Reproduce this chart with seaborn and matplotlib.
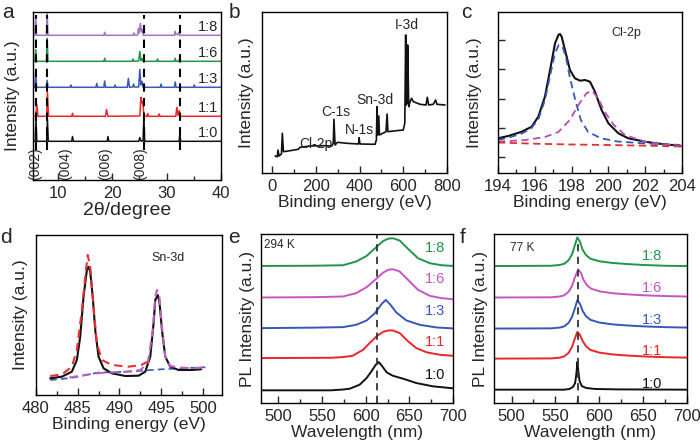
import numpy as np
import pandas as pd
import matplotlib
matplotlib.use("Agg")
import matplotlib.pyplot as plt
import seaborn as sns
from matplotlib.ticker import MultipleLocator, NullFormatter

sns.set_style("ticks")
plt.rcParams["font.family"] = ["Liberation Sans", "DejaVu Sans"]
plt.rcParams["axes.linewidth"] = 1.0

# ---------------- DATA ----------------
# (a) XRD, samples 1:0 ... 1:8 (offset traces)
XRD_LABELS = ["1:0", "1:1", "1:3", "1:6", "1:8"]
XRD_1_0 = [(5.5,38.7),(5.9,38.7),(6.05,60.7),(6.2,38.7),(8.0,38.7),(8.15,60.7),(8.3,38.7),(12.6,38.7),(12.75,43.5),(12.9,38.7),
           (19.1,38.7),(19.25,43.5),(19.4,38.7),(24.9,38.7),(25.1,42.5),(25.3,39),(25.7,39),(25.85,64),(26.0,38.7),
           (32.3,38.7),(32.45,46.5),(32.6,38.7),(40,38.7)]
XRD_1_1 = [(5.5,63.7),(6.0,63.7),(6.2,75.7),(6.4,63.7),(8.0,63.7),(8.15,87.7),(8.35,63.7),(12.6,63.7),(12.75,66.7),(12.9,63.7),
           (18.8,63.7),(19.0,70.5),(19.25,63.7),(25.1,64),(25.3,82.7),(25.5,77),(25.65,78.7),(25.85,64.5),(26.4,63.7),(26.55,66.5),
           (26.7,63.7),(28.5,63.7),(28.65,66),(28.8,63.7),(31.7,63.7),(31.9,72.7),(32.1,64.5),(32.35,69.5),(32.55,63.7),(40,63.7)]
XRD_1_3 = [(5.5,92.7),(5.85,92.7),(6.0,108.7),(6.15,92.7),(7.95,92.7),(8.1,99.7),(8.25,92.7),(12.3,92.7),(12.45,95),(12.6,92.7),
           (17.05,92.7),(17.2,96.5),(17.35,92.7),(18.5,92.7),(18.65,99),(18.8,92.7),(20.4,92.7),(20.55,95),(20.7,92.7),
           (22.8,92.7),(23.0,101.5),(23.2,92.7),(23.8,93),(23.95,96),(24.1,93),(24.9,93),(25.1,110.7),(25.3,95),(25.5,98.7),
           (25.7,92.7),(28.85,92.7),(29.0,96),(29.15,92.7),(31.45,92.7),(31.6,98),(31.75,92.7),(34.95,92.7),(35.1,95),
           (35.25,92.7),(40,92.7)]
XRD_1_6 = [(5.5,118.7),(5.85,118.7),(6.0,130.5),(6.15,118.7),(7.95,118.7),(8.1,141.7),(8.25,118.7),(18.5,118.7),(18.65,121.7),
           (18.8,118.7),(23.7,118.7),(23.85,121),(24.0,118.7),(24.9,119),(25.1,128.7),(25.3,119.5),(25.5,121.5),(25.7,118.7),
           (28.2,118.7),(28.35,121),(28.5,118.7),(31.45,118.7),(31.6,121.7),(31.75,118.7),(32.25,118.7),(32.4,121.5),
           (32.55,118.7),(40,118.7)]
XRD_1_8 = [(5.5,144.7),(5.85,144.7),(6.0,161.7),(6.15,144.7),(7.95,144.7),(8.1,167),(8.25,144.7),(18.5,144.7),(18.65,147.7),
           (18.8,144.7),(23.9,144.7),(24.05,147),(24.2,144.7),(24.7,145),(24.85,151.7),(25.0,147),(25.2,156.7),(25.4,148),
           (25.55,150.7),(25.75,144.7),(31.45,144.7),(31.6,148.7),(31.75,145.5),(32.1,145.5),(32.25,147.7),(32.4,144.7),
           (40,144.7)]
XRD_LABEL_Y = [40, 65, 94.5, 120.5, 146.5]
XRD_DASH_X = [6.0, 8.1, 25.9, 32.5]
HKL_TEXT = ["(002)", "(004)", "(006)", "(008)"]
HKL_X = [5.95, 11.4, 18.8, 25.1]

# (b) XPS survey
SURVEY = [(14,17),(24,16.3),(27,23),(32,17),(43,19),(47,39.7),(52,21.3),(82,22.3),(120,23.7),(128,25.7),(174,27),(235,27.3),
          (273,27),(280,29.7),(283,53.7),(288,28),(299,30.7),(342,29.7),(395,29),(398,35.3),(402,29),(471,28.7),(477,33),
          (480,66.3),(483,38),(488,57),(491,38),(506,39.7),(521,41.3),(526,59),(530,41.3),(555,42),(600,43),(607,49.7),
          (611,138),(614,68),(616,118),(618,70),(620,128),(625,66.3),(631,71.3),(638,74.7),(646,71.3),(677,68.7),(704,68),
          (710,75.7),(716,68),(737,68.7),(748,73),(754,68.7),(791,68)]
SURVEY_TEXT = ["I-3d", "Sn-3d", "C-1s", "N-1s", "Cl-2p"]
SURVEY_TEXT_X = [615, 471, 292, 399, 199]
SURVEY_TEXT_Y = [148, 73, 61.3, 43, 29]

# (c) Cl-2p
CL_DATA = [(194,34.7),(194.56,37),(195.29,41.3),(195.83,46.3),(196.19,56.3),(196.55,76.3),(196.83,103),(197.1,129.7),
           (197.28,138),(197.37,139),(197.46,136.3),(197.64,123),(197.91,103),(198.18,94.7),(198.46,92.3),(198.73,93),
           (199.0,91.3),(199.27,81.3),(199.63,63),(200.0,49.7),(200.54,39.7),(201.08,34.7),(201.99,31.3),(202.9,29),(204,27)]
CL_FIT1 = [(194,33),(194.6,35.5),(195.3,39.5),(195.8,44.5),(196.2,54),(196.55,73),(196.85,99),(197.1,120),(197.3,128),
           (197.5,127),(197.7,115),(197.9,96),(198.2,73),(198.5,53),(198.9,41),(199.6,34.7),(200.5,31.5),(202,29.5),(204,28)]
CL_FIT2 = [(194,31.3),(195.5,33),(196.55,36),(197.28,41),(197.9,53),(198.37,68),(198.8,79.7),(199.1,82.3),(199.45,74.7),
           (199.8,61),(200.3,48),(200.9,38),(202,31.3),(203,28.5),(204,27)]
CL_BG = [(194,30.5),(196,29.3),(198,28.5),(200,28),(202,27.3),(204,26.5)]
CL_YTICKS = [15.7, 45, 74.3, 103.7, 133]

# (d) Sn-3d
SN_DATA = [(481.7,16.7),(483.1,18.3),(484.3,23.3),(484.9,35),(485.3,58.3),(485.7,98.3),(486.1,125),(486.3,128.3),
           (486.5,123.3),(486.8,98.3),(487.1,65),(487.5,38.3),(488.1,26.7),(489.1,21.7),(490.7,19),(492.3,19.3),
           (493.1,23.3),(493.7,38.3),(494.1,71.7),(494.3,95),(494.6,100),(494.8,93.3),(495.1,65),(495.5,38.3),
           (496.1,28.3),(497.1,25),(498.6,25),(499.8,25.7)]
SN_FIT1 = [(481.7,19),(483.1,20.5),(484.3,28.3),(484.9,45),(485.5,85),(485.9,118),(486.2,140),(486.5,128),(486.9,88),
           (487.3,51.7),(487.9,35),(489.1,30),(491.1,28.3),(492.6,30),(493.4,33.3)]
SN_FIT2 = [(484.0,17.5),(485.5,19.5),(487,21.5),(488.5,22.5),(490.5,23),(492.5,25),(493.4,31.7),(494.0,65),(494.3,98.3),
           (494.5,105),(494.8,98.3),(495.1,68.3),(495.5,38.3),(496.1,29),(497.1,27.7),(498.6,26.7),(500.2,27.7)]
SN_BG = [(481.7,15),(483,16),(484.5,17.5),(486,20),(487.5,22.5),(489,22.7),(491,23.3),(493,24.5),(495,25.7),(497,26.5),
         (499,27.3),(500.3,27.7)]

# (e) PL at 294 K
PL294_LABELS = ["1:0", "1:1", "1:3", "1:6", "1:8"]
PL294_1_0 = [(480,12.7),(560,12.7),(574,13.5),(581.6,14.3),(593,18.3),(601,25),(606.5,31.7),(611.5,38.3),(615,41),
             (619,36.7),(624,30.7),(631,27.3),(643,24.3),(658,20),(677,16.7),(700,14.7)]
PL294_1_1 = [(480,45),(560,45.3),(574,46),(585,47.3),(597,53.3),(604.5,60),(612.3,66.7),(620,71.3),(626,72.7),(631,72.7),
             (639,70),(648.6,61.7),(658,55),(670,50.7),(685,48.3),(700,47.3)]
PL294_1_3 = [(480,75),(540,75.5),(574,76),(589,78.3),(601,82.7),(610.6,90),(618.3,99.3),(623,103.3),(628.4,98.3),
             (635,90.7),(646.6,82.7),(662,78.3),(681,75.7),(700,74.7)]
PL294_1_6 = [(480,105.7),(540,106),(574,106.7),(589,110),(601,116),(610.6,123.3),(620,130.7),(626,133.5),(631.4,134),
             (639,131.7),(648.6,123.3),(660,113.3),(673.6,107.3),(687,105),(700,104)]
PL294_1_8 = [(480,137.3),(540,137.5),(574,138),(589,141.7),(601,147.3),(610.6,155),(620,162.3),(626,164.7),(631.4,165),
             (639,162.7),(648.6,154.3),(660,145),(673.6,140),(687,138),(700,137.3)]
PL294_LABEL_Y = [28, 61, 92.5, 124, 155]
PL294_PEAK = 613

# (f) PL at 77 K
PL77_1_0 = [(480,13.3),(560,13.3),(566,14),(570,16),(572.5,20),(574,30),(575,41),(576,33),(577.5,22),(580,17),(585,15),
            (595,14),(620,13.6),(700,13.3)]
PL77_1_1 = [(480,44.3),(545,44.5),(555,45.3),(560,46.5),(565,50),(569,56),(572,64),(575,71),(578,68),(581,62),(585,56.5),
            (590,53),(600,50.3),(615,48.5),(630,47.5),(650,46.5),(675,45.7),(700,45.3)]
PL77_1_3 = [(480,74.3),(545,74.5),(555,75.3),(560,76.5),(565,80),(569,86),(572,94),(575,102.5),(578,99),(581,92),
            (585,86.5),(590,83),(600,80.3),(615,78.5),(630,77.5),(650,76.5),(675,75.7),(700,75.3)]
PL77_1_6 = [(480,105.3),(545,105.5),(555,106.3),(560,107.5),(565,111),(569,117),(572,125),(576,133.3),(579,130),
            (582,123),(586,117.5),(591,114),(601,111.3),(616,109.5),(631,108.5),(651,107.5),(676,106.7),(700,106.3)]
PL77_1_8 = [(480,136.7),(545,137),(555,137.8),(560,139),(565,142.5),(569,148.5),(572,157),(575,165.3),(578,161),
            (581,153),(585,147.5),(590,144),(600,141.5),(615,139.8),(630,138.8),(650,137.8),(675,137),(700,136.7)]
PL77_LABEL_Y = [19.3, 52, 83.3, 114.3, 146.7]
PL77_PEAK = 575.4

# ---------------- STYLE ----------------
C_BLACK = "#111111"
C_RED = "#e8262a"
C_BLUE = "#3656b8"
C_GREEN = "#229447"
C_PURPLE = "#a074c8"
C_MAGENTA = "#c455c4"
XRD_COLORS = [C_BLACK, C_RED, C_BLUE, C_GREEN, C_PURPLE]
PL_COLORS = [C_BLACK, C_RED, C_BLUE, C_MAGENTA, C_GREEN]

W, H = 700, 444
fig = plt.figure(figsize=(W / 100, H / 100), dpi=100)


def make_ax(l, t, r, b):
    return fig.add_axes([l / W, 1 - b / H, (r - l) / W, (b - t) / H])


def draw(ax, pts, color, lw=1.2, ls="-"):
    df = pd.DataFrame(pts, columns=["x", "y"])
    sns.lineplot(data=df, x="x", y="y", ax=ax, color=color, lw=lw, linestyle=ls,
                 estimator=None, sort=False)


def style(ax, xlim, ylim, major, minor, xlabel, ylabel, ypad, xsize=12.5):
    ax.set_xlim(*xlim)
    ax.set_ylim(*ylim)
    ax.xaxis.set_major_locator(MultipleLocator(major))
    ax.xaxis.set_minor_locator(MultipleLocator(minor))
    ax.tick_params(axis="x", which="major", direction="in", length=5, width=1,
                   labelsize=12, pad=4)
    ax.tick_params(axis="x", which="minor", direction="in", length=3, width=1)
    ax.set_yticks([])
    ax.set_xlabel(xlabel, fontsize=xsize, labelpad=1)
    ax.set_ylabel(ylabel, fontsize=12.5, labelpad=ypad)
    for sp in ax.spines.values():
        sp.set_visible(True)
        sp.set_linewidth(1.0)
        sp.set_color("black")


DASH = (0, (4, 2.5))

# (a)
ax = make_ax(33, 12, 221, 180)
for pts, col in zip([XRD_1_0, XRD_1_1, XRD_1_3, XRD_1_6, XRD_1_8], XRD_COLORS):
    draw(ax, pts, col, lw=1.1)
for xv in XRD_DASH_X:
    ax.plot([xv, xv], [30, 165], color="black", lw=1.5, linestyle=(0, (4, 3)))
for lab, yv in zip(XRD_LABELS, XRD_LABEL_Y):
    ax.text(37.6, yv, lab, fontsize=10.5, ha="center", va="bottom")
for lab, xv in zip(HKL_TEXT, HKL_X):
    ax.text(xv, 16.5, lab, fontsize=10, rotation=90, ha="center", va="center")
style(ax, (5.5, 40), (0, 168), 10, 5, "2θ/degree", "Intensity (a.u.)", 9, xsize=14)

# (b)
ax = make_ax(262, 12, 447, 173)
draw(ax, SURVEY, C_BLACK, lw=1.2)
for lab, xv, yv in zip(SURVEY_TEXT, SURVEY_TEXT_X, SURVEY_TEXT_Y):
    ax.text(xv, yv, lab, fontsize=10, ha="center", va="center")
style(ax, (-46, 800), (0, 161), 200, 100, "Binding energy (eV)", "Intensity (a.u.)", 6)

# (c)
ax = make_ax(498, 12, 682, 173)
draw(ax, CL_DATA, C_BLACK, lw=1.5)
draw(ax, CL_FIT1, C_BLUE, lw=1.3, ls=DASH)
draw(ax, CL_FIT2, "#b050b0", lw=1.3, ls=DASH)
draw(ax, CL_BG, "#e03030", lw=1.3, ls=DASH)
ax.text(201, 139.7, "Cl-2p", fontsize=9, ha="center", va="center")
style(ax, (194, 204), (0, 161), 2, 1, "Binding energy (eV)", "Intensity (a.u.)", 8)
ax.set_yticks(CL_YTICKS)
ax.yaxis.set_major_formatter(NullFormatter())
ax.tick_params(axis="y", direction="in", length=5, width=1)

# (d)
ax = make_ax(36, 235, 222, 395)
draw(ax, SN_BG, C_BLUE, lw=1.2, ls=DASH)
draw(ax, SN_DATA, C_BLACK, lw=1.5)
draw(ax, SN_FIT2, "#c060c0", lw=1.5, ls=DASH)
draw(ax, SN_FIT1, "#e83030", lw=1.5, ls=DASH)
ax.text(495.8, 136.7, "Sn-3d", fontsize=9, ha="center", va="center")
style(ax, (480, 502.3), (0, 160), 5, 2.5, "Binding energy (eV)", "Intensity (a.u.)", 6)

# (e)
ax = make_ax(261, 234, 453, 403)
for pts, col in zip([PL294_1_0, PL294_1_1, PL294_1_3, PL294_1_6, PL294_1_8], PL_COLORS):
    draw(ax, pts, col, lw=1.4)
ax.plot([PL294_PEAK, PL294_PEAK], [0, 169], color="#333333", lw=1.3, linestyle=(0, (4, 3)))
for lab, yv, col in zip(PL294_LABELS, PL294_LABEL_Y, PL_COLORS):
    ax.text(679, yv, lab, fontsize=10.5, ha="center", va="center", color=col)
ax.text(484, 158.3, "294 K", fontsize=8.5, ha="left", va="center")
style(ax, (480, 700), (0, 169.3), 50, 25, "Wavelength (nm)", "PL Intensity (a.u.)", 4)

# (f)
ax = make_ax(494, 234, 687, 403)
for pts, col in zip([PL77_1_0, PL77_1_1, PL77_1_3, PL77_1_6, PL77_1_8], PL_COLORS):
    draw(ax, pts, col, lw=1.4)
ax.plot([PL77_PEAK, PL77_PEAK], [0, 163], color="#333333", lw=1.3, linestyle=(0, (4, 3)))
for lab, yv, col in zip(PL294_LABELS, PL77_LABEL_Y, PL_COLORS):
    ax.text(660, yv, lab, fontsize=10.5, ha="center", va="center", color=col)
ax.text(498, 154.3, "77 K", fontsize=8.5, ha="left", va="center")
style(ax, (480, 700), (0, 168.7), 50, 25, "Wavelength (nm)", "PL Intensity (a.u.)", 4)

# panel letters
for lab, xp, yp in [("a", 8, 12), ("b", 234, 12), ("c", 466, 12), ("d", 6, 237), ("e", 234, 237), ("f", 463, 237)]:
    fig.text(xp / W, 1 - yp / H, lab, fontsize=15, ha="center", va="center")

fig.savefig("out.png", dpi=100)
